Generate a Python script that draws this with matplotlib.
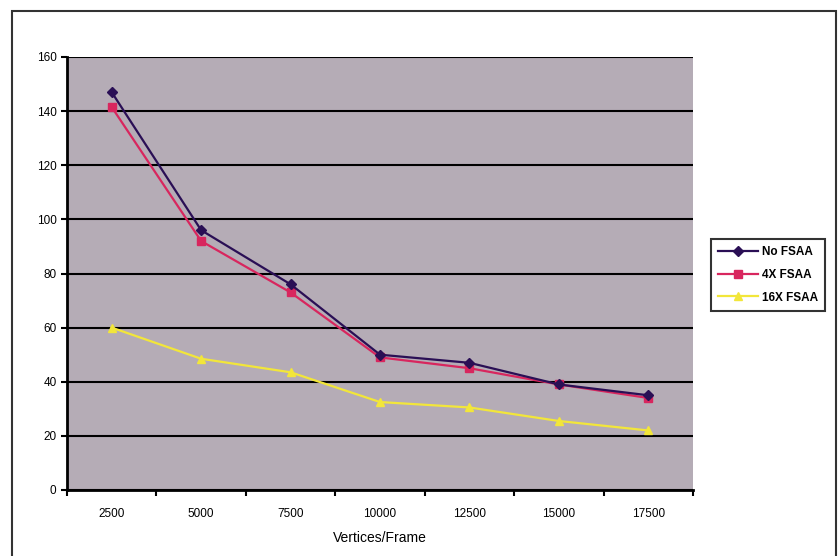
import matplotlib.pyplot as plt
import numpy as np
from matplotlib.patches import Rectangle

plt.rcParams['font.family'] = ['Liberation Sans', 'DejaVu Sans']

categories = ["2500", "5000", "7500", "10000", "12500", "15000", "17500"]
no_fsaa = [147, 96, 76, 50, 47, 39, 35]
fsaa_4x = [141.5, 92, 73, 49, 45, 39, 34]
fsaa_16x = [60, 48.5, 43.5, 32.5, 30.5, 25.5, 22]

fig = plt.figure(figsize=(8.39, 5.56), dpi=100)
W, H = 839, 556
ax = fig.add_axes([67 / W, 1 - 490 / H, (693 - 67) / W, (490 - 57) / H])
ax.set_facecolor("#b5acb6")

# outer chart border (bottom edge falls off the picture)
fig.patches.append(Rectangle((12 / W, -0.02), (836 - 12) / W, 1.02 - 11 / H,
                             transform=fig.transFigure, fill=False,
                             edgecolor="#333333", linewidth=1.5))

x = np.arange(len(categories))
ax.plot(x, no_fsaa, color="#2a0f55", linewidth=1.6, marker="D", markersize=5,
        label="No FSAA", zorder=4)
ax.plot(x, fsaa_4x, color="#d8265e", linewidth=1.6, marker="s", markersize=6,
        label="4X FSAA", zorder=3)
ax.plot(x, fsaa_16x, color="#f2e63a", linewidth=1.6, marker="^", markersize=6,
        label="16X FSAA", zorder=3)

ax.set_xlim(-0.5, len(categories) - 0.5)
ax.set_ylim(0, 160)
ax.set_yticks(range(0, 161, 20))
ax.yaxis.grid(True, color="black", linewidth=1.5)
ax.set_axisbelow(True)

ax.set_xticks(np.arange(-0.5, len(categories), 1))
ax.set_xticklabels([])
ax.set_xticks(x, minor=True)
ax.set_xticklabels(categories, minor=True)
ax.tick_params(axis="x", which="minor", length=0, pad=13, labelsize=8.5)
ax.tick_params(axis="x", which="major", length=4, width=1.5, direction="out")
ax.tick_params(axis="y", length=4, width=1.5, direction="out", labelsize=8.5)

for side in ("top", "right"):
    ax.spines[side].set_visible(False)
for side in ("left", "bottom"):
    ax.spines[side].set_linewidth(2)

ax.set_xlabel("Vertices/Frame", fontsize=10, labelpad=8)

leg = ax.legend(loc="center left", bbox_to_anchor=(705 / W, 1 - 275 / H),
                bbox_transform=fig.transFigure, fontsize=8.5, frameon=True,
                fancybox=False, edgecolor="black", handlelength=3.4,
                handletextpad=0.3, borderpad=0.6, labelspacing=0.9)
leg.get_frame().set_linewidth(1.5)
for t in leg.get_texts():
    t.set_fontweight("bold")

fig.savefig("out.png", dpi=100)
